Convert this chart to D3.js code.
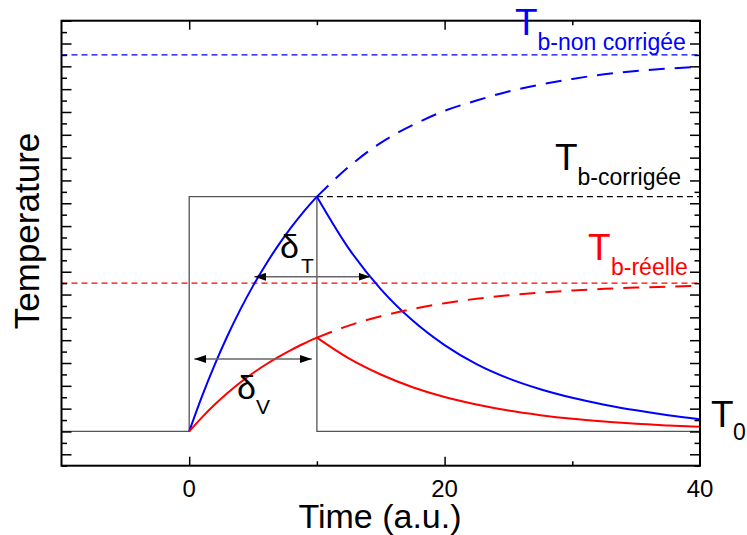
<!DOCTYPE html>
<html>
<head>
<meta charset="utf-8">
<script src="https://cdn.jsdelivr.net/npm/d3@7"></script>
<style>
  body { margin: 0; background: #fff; }
  text { font-family: "Liberation Sans", Arial, sans-serif; }
</style>
</head>
<body>
<div id="chart"></div>
<script>

// Chart data
const tHeat = [0, 1, 2, 3, 4, 5, 6, 7, 8, 9, 10];
const blueHeat = [0, 3.07, 5.86, 8.39, 10.68, 12.76, 14.64, 16.35, 17.9, 19.31, 20.58];
const redHeat = [0, 1.24, 2.36, 3.37, 4.29, 5.12, 5.87, 6.54, 7.16, 7.71, 8.22];

const tAfter = [10, 12.5, 15, 17.5, 20, 22.5, 25, 27.5, 30, 32.5, 35, 37.5, 40];
const blueDashed = [20.58, 23.2, 25.3, 26.85, 28.1, 29.0, 29.8, 30.4, 30.9, 31.3, 31.6, 31.8, 31.97];
const blueCool = [20.58, 16.03, 12.48, 9.72, 7.57, 5.9, 4.65, 3.7, 2.95, 2.35, 1.85, 1.42, 1.07];
const redDashed = [8.22, 9.28, 10.1, 10.74, 11.24, 11.63, 11.93, 12.17, 12.35, 12.5, 12.61, 12.69, 12.76];
const redCool = [8.22, 6.4, 4.99, 3.88, 3.02, 2.36, 1.83, 1.43, 1.11, 0.87, 0.67, 0.53, 0.41];

// step of the pulse
const pulseT = [-10, 0, 0, 10, 10, 40];
const pulseV = [0, 0, 20.58, 20.58, 0, 0];

// horizontal levels
const levelNonCorr = 33;
const levelCorr = 20.58;
const levelReel = 13;

// double arrows: [t start, t end], height
const deltaTx = [5.1, 14.2];
const deltaTy = 13.56;
const deltaVx = [0.4, 9.6];
const deltaVy = 6.35;

const xTicks = [0, 20, 40];

// Dimensions
const width = 747;
const height = 535;
const margin = {left: 61.5, right: 47, top: 20.7, bottom: 69.3};

const svg = d3.select("#chart")
  .append("svg")
  .attr("width", width)
  .attr("height", height);

const x = d3.scaleLinear()
  .domain([-10, 40])
  .range([margin.left, width - margin.right]);

const y = d3.scaleLinear()
  .domain([-3, 36])
  .range([height - margin.bottom, margin.top]);

// arrow heads
svg.append("defs").append("marker")
  .attr("id", "head")
  .attr("markerUnits", "userSpaceOnUse")
  .attr("markerWidth", 13)
  .attr("markerHeight", 8)
  .attr("refX", 12)
  .attr("refY", 4)
  .attr("orient", "auto-start-reverse")
  .append("path")
  .attr("d", "M0,0 L12,4 L0,8 Z")
  .attr("fill", "#000");

const line = d3.line()
  .x(d => x(d[0]))
  .y(d => y(d[1]))
  .curve(d3.curveMonotoneX);

const straight = d3.line()
  .x(d => x(d[0]))
  .y(d => y(d[1]));

// pulse
svg.append("path")
  .datum(d3.zip(pulseT, pulseV))
  .attr("d", straight)
  .attr("fill", "none")
  .attr("stroke", "#555")
  .attr("stroke-width", 1.3);

// dashed levels
svg.append("line")
  .attr("x1", x(-10)).attr("x2", x(40))
  .attr("y1", y(levelNonCorr)).attr("y2", y(levelNonCorr))
  .attr("stroke", "#0000ff").attr("stroke-width", 1.3)
  .attr("stroke-dasharray", "6,4");

svg.append("line")
  .attr("x1", x(10)).attr("x2", x(40))
  .attr("y1", y(levelCorr)).attr("y2", y(levelCorr))
  .attr("stroke", "#000").attr("stroke-width", 1.3)
  .attr("stroke-dasharray", "6,4");

svg.append("line")
  .attr("x1", x(-10)).attr("x2", x(40))
  .attr("y1", y(levelReel)).attr("y2", y(levelReel))
  .attr("stroke", "#ff0000").attr("stroke-width", 1.3)
  .attr("stroke-dasharray", "6,4");

// curves
const curves = [
  {t: tHeat, v: blueHeat, c: "#0000ff", dash: null},
  {t: tAfter, v: blueDashed, c: "#0000ff", dash: "16,10"},
  {t: tAfter, v: blueCool, c: "#0000ff", dash: null},
  {t: tHeat, v: redHeat, c: "#ff0000", dash: null},
  {t: tAfter, v: redDashed, c: "#ff0000", dash: "16,10"},
  {t: tAfter, v: redCool, c: "#ff0000", dash: null}
];

svg.selectAll(".curve")
  .data(curves)
  .enter()
  .append("path")
    .attr("class", "curve")
    .attr("d", d => line(d3.zip(d.t, d.v)))
    .attr("fill", "none")
    .attr("stroke", d => d.c)
    .attr("stroke-width", 2)
    .attr("stroke-dasharray", d => d.dash);

// double arrows
[[deltaTx, deltaTy], [deltaVx, deltaVy]].forEach(a => {
  svg.append("line")
    .attr("x1", x(a[0][0])).attr("x2", x(a[0][1]))
    .attr("y1", y(a[1])).attr("y2", y(a[1]))
    .attr("stroke", "#666")
    .attr("stroke-width", 1.5)
    .attr("marker-start", "url(#head)")
    .attr("marker-end", "url(#head)");
});

// frame
svg.append("rect")
  .attr("x", margin.left)
  .attr("y", margin.top)
  .attr("width", width - margin.left - margin.right)
  .attr("height", height - margin.top - margin.bottom)
  .attr("fill", "none")
  .attr("stroke", "#000")
  .attr("stroke-width", 2);

// ticks (all pointing inward)
const yMajor = d3.range(-2, 37, 2);
const yMinor = d3.range(-3, 36, 2);

function ticks(axis, vals, size, transform) {
  const g = svg.append("g")
    .attr("transform", transform)
    .call(axis.tickValues(vals).tickSize(-size).tickSizeOuter(0).tickFormat(""));
  g.select(".domain").remove();
  g.selectAll("line").attr("stroke", "#000").attr("stroke-width", 1.5);
}

ticks(d3.axisLeft(y), yMajor, 10, `translate(${margin.left},0)`);
ticks(d3.axisLeft(y), yMinor, 5.5, `translate(${margin.left},0)`);
ticks(d3.axisRight(y), yMajor, 10, `translate(${width - margin.right},0)`);
ticks(d3.axisRight(y), yMinor, 5.5, `translate(${width - margin.right},0)`);
ticks(d3.axisTop(x), [0, 20], 9, `translate(0,${margin.top})`);
ticks(d3.axisTop(x), [10, 30], 4.5, `translate(0,${margin.top})`);
ticks(d3.axisBottom(x), [0, 20], 9, `translate(0,${height - margin.bottom})`);
ticks(d3.axisBottom(x), [10, 30], 4.5, `translate(0,${height - margin.bottom})`);

// x tick labels
svg.selectAll(".xlab")
  .data(xTicks)
  .enter()
  .append("text")
    .attr("class", "xlab")
    .attr("x", d => x(d))
    .attr("y", 496.5)
    .attr("text-anchor", "middle")
    .attr("font-size", "24px")
    .text(d => d);

// axis titles
svg.append("text")
  .attr("x", 380)
  .attr("y", 528)
  .attr("text-anchor", "middle")
  .attr("font-size", "34px")
  .text("Time (a.u.)");

svg.append("text")
  .attr("transform", "translate(39,231) rotate(-90)")
  .attr("text-anchor", "middle")
  .attr("font-size", "35px")
  .text("Temperature");

// level labels
function label(xT, yT, sub, color, bigSize, subSize, xS, yS) {
  svg.append("text")
    .attr("x", xT).attr("y", yT)
    .attr("font-size", bigSize + "px")
    .attr("fill", color)
    .text(sub[0]);
  svg.append("text")
    .attr("x", xS).attr("y", yS)
    .attr("font-size", subSize + "px")
    .attr("fill", color)
    .text(sub[1]);
}

label(515, 35, ["T", "b-non corrigée"], "#0000ff", 37, 23, 537.5, 50);
label(555, 170, ["T", "b-corrigée"], "#000", 37, 23, 577.5, 185);
label(588, 260, ["T", "b-réelle"], "#ff0000", 37, 23, 611, 275);
label(711, 426.7, ["T", "0"], "#000", 37, 23, 733, 440);
label(280, 258, ["δ", "T"], "#000", 34, 21, 301, 272.7);
label(237, 399, ["δ", "V"], "#000", 34, 21, 256, 414);

</script>
</body>
</html>
